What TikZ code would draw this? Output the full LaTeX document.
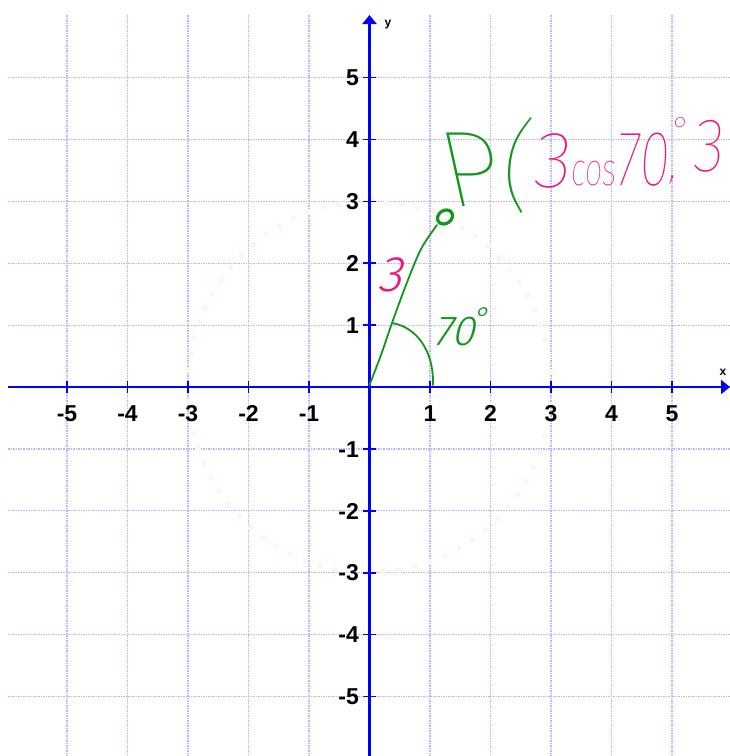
\documentclass[tikz,border=0pt]{standalone}
\usepackage{fontspec}
\setmainfont{Liberation Sans}
\IfFontExistsTF{Fira Sans Thin}
  {\newfontfamily\handthin{Fira Sans Thin}[FakeSlant=0.1]
   \newfontfamily\handback{Fira Sans Thin}[FakeSlant=-0.22]}
  {\IfFontExistsTF{Fira Sans Light}
    {\newfontfamily\handthin{Fira Sans Light}[FakeSlant=0.1]
     \newfontfamily\handback{Fira Sans Light}[FakeSlant=-0.22]}
    {\newfontfamily\handthin{Fira Sans}[FakeSlant=0.1]
     \newfontfamily\handback{Fira Sans}[FakeSlant=-0.22]}}
\IfFontExistsTF{Fira Sans Light}
  {\newfontfamily\handlight{Fira Sans Light}[FakeSlant=0.25]}
  {\newfontfamily\handlight{Fira Sans}[FakeSlant=0.25]}
\usetikzlibrary{arrows.meta}
\definecolor{axisblue}{RGB}{0,0,255}
\definecolor{gridblue}{RGB}{185,185,250}
\definecolor{handgreen}{RGB}{20,150,30}
\definecolor{handpink}{RGB}{240,20,125}
\definecolor{faintpink}{RGB}{255,244,242}
\tikzset{
  gridline/.style={gridblue, line width=1.2pt, dash pattern=on 1.5pt off 1pt},
  axisline/.style={axisblue, line width=2.6pt, -{Triangle[length=9pt,width=14pt]}},
  tickline/.style={axisblue, line width=1.6pt},
  numlab/.style={inner sep=0pt, text height=16.5pt, text depth=0pt, font=\fontsize{23}{23}\selectfont\bfseries},
  axlab/.style={inner sep=0pt, font=\fontsize{12}{12}\selectfont\bfseries},
  greenink/.style={handgreen, line width=1.8pt, line cap=round, line join=round},
  hand/.style={inner sep=0pt},
}
\begin{document}
\begin{tikzpicture}[x=1pt,y=-1pt]
\useasboundingbox (0,0) rectangle (730,756);
% grid
\foreach \k in {-5,...,5}{
  \draw[gridline] ({369.5+60.5*\k},15) -- ({369.5+60.5*\k},756);
  \draw[gridline] (8,{387-61.9*\k}) -- (730,{387-61.9*\k});
}
% faint dotted circle
\draw[faintpink, line width=5pt, dash pattern=on 5pt off 11pt] (369.5,387) ellipse [x radius=181.5, y radius=185.7];
% axes
\coordinate (xstart) at (8,387);
\coordinate (xend) at (730,387);
\coordinate (ystart) at (369.5,756);
\coordinate (yend) at (369.5,15);
\draw[axisline] (xstart) -- (xend);
\draw[axisline] (ystart) -- (yend);
\node[axlab] (xl) at (723,372) {x};
\node[axlab] (yl) at (388,25) {y};
% ticks and labels
\foreach \k in {-5,-4,-3,-2,-1,1,2,3,4,5}{
  \draw[tickline] ({369.5+60.5*\k},381) -- ({369.5+60.5*\k},393);
  \draw[tickline] (363,{387-61.9*\k}) -- (376,{387-61.9*\k});
  \node[numlab] (xn\k) at ({369.5+60.5*\k},413) {\k};
  \node[numlab, anchor=east] (yn\k) at (359,{387-61.9*\k}) {\k};
}
% green radius line
\coordinate (O) at (369.5,385);
\coordinate (P) at (445,217);
\draw[greenink] plot[smooth] coordinates {(O) (381,355) (392,323) (406,285) (421,249) (437,225)};
\draw[handgreen, line width=3.2pt, rotate around={35:(P)}] (P) ellipse [x radius=8, y radius=6.5];
% angle arc
\coordinate (a1) at (392,323);
\coordinate (a2) at (433,385);
\draw[greenink] (a1) .. controls (416,327) and (434,350) .. (a2);
% handwriting
\node[hand, handgreen, font=\fontsize{42}{42}\handlight] (ang) at (454,332) {70};
\node[hand, handgreen, font=\fontsize{30}{30}\handlight] (angdeg) at (480,318) {°};
\node[hand, handpink, font=\fontsize{50}{50}\handlight] (r3) at (390,275) {3};
\node[hand, handgreen, font=\fontsize{108}{108}\handback] (Plab) at (480,170) {P};
\node[hand, handgreen, font=\fontsize{100}{100}\handthin] (par) at (515,165) {(};
\node[hand, handpink, font=\fontsize{80}{80}\handthin] (c3) at (551,161) {3};
\node[hand, handpink, font=\fontsize{46}{46}\handthin, xscale=0.68] (cos) at (593,174) {cos};
\node[hand, handpink, font=\fontsize{78}{78}\handthin, xscale=0.72] (c70) at (642,160) {70};
\node[hand, handpink, font=\fontsize{36}{36}\handthin] (cdeg) at (680,130) {°};
\node[hand, handpink, font=\fontsize{50}{50}\handthin] (comma) at (673,180) {,};
\node[hand, handpink, font=\fontsize{76}{76}\handthin, xscale=0.85] (c3b) at (708,146) {3};
\end{tikzpicture}
\end{document}
